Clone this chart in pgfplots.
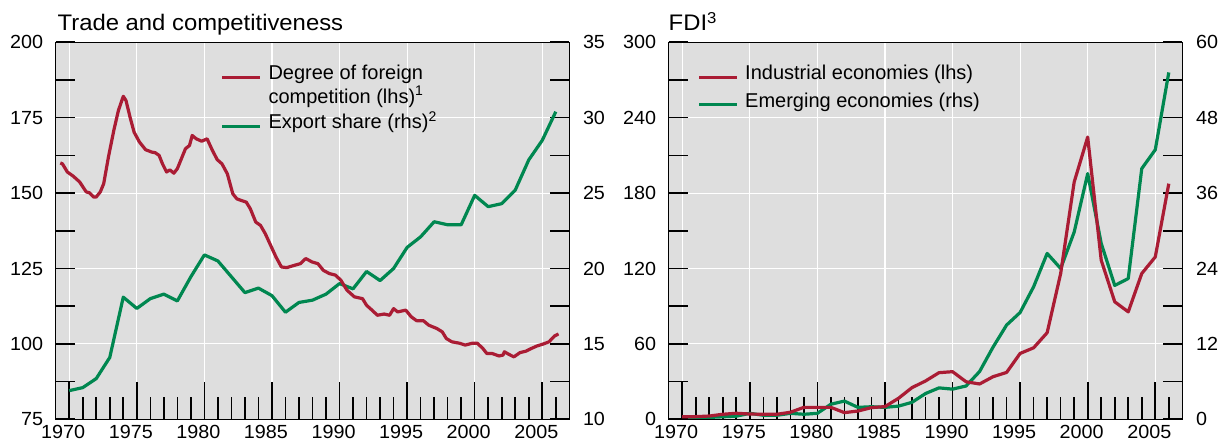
\documentclass[border=0pt]{standalone}
\usepackage{fontspec}
\setmainfont{Liberation Sans}
\newfontfamily\titlefont{Liberation Sans}[FakeStretch=1.06]
\newfontfamily\tickfont{Liberation Sans}[FakeStretch=1.04]
\usepackage{pgfplots}
\pgfplotsset{compat=1.18}
\definecolor{bisred}{RGB}{170,28,52}
\definecolor{bisgreen}{RGB}{0,135,80}
\definecolor{bggray}{RGB}{222,222,222}

\pgfplotstableread{
x y
1969.34 160.0
1969.5 159.7
1969.86 157.0
1970.3 155.6
1970.77 153.7
1971.26 150.4
1971.5 150.1
1971.8 148.7
1972.0 148.7
1972.3 150.4
1972.55 153.1
1972.9 161.9
1973.3 170.8
1973.64 177.4
1974.0 182.1
1974.2 180.7
1974.5 175.2
1974.8 170.2
1975.2 166.9
1975.65 164.4
1976.1 163.6
1976.36 163.4
1976.65 162.5
1976.9 159.7
1977.2 157.0
1977.45 157.7
1977.74 156.6
1978.0 158.1
1978.3 161.4
1978.6 164.7
1978.9 165.8
1979.1 169.1
1979.4 168.0
1979.8 167.2
1980.2 168.0
1980.6 164.1
1980.95 161.1
1981.3 159.7
1981.7 156.4
1982.1 149.8
1982.4 148.1
1982.7 147.6
1983.1 147.0
1983.4 144.8
1983.8 140.4
1984.15 139.3
1984.5 136.6
1984.9 132.7
1985.3 128.8
1985.7 125.5
1986.1 125.3
1986.7 126.1
1987.1 126.6
1987.5 128.3
1987.95 127.2
1988.4 126.6
1988.8 124.4
1989.25 123.3
1989.7 122.8
1990.1 121.1
1990.55 117.8
1991.1 115.6
1991.7 115.0
1992.0 112.8
1992.4 111.2
1992.8 109.5
1993.3 109.9
1993.7 109.5
1994.0 111.7
1994.3 110.6
1994.9 111.2
1995.3 109.0
1995.7 107.7
1996.2 107.7
1996.6 106.2
1997.2 105.1
1997.6 104.0
1997.9 101.8
1998.3 100.7
1998.9 100.2
1999.3 99.6
1999.8 100.2
2000.2 100.2
2000.6 98.5
2000.9 96.8
2001.3 96.8
2001.8 96.0
2002.1 96.3
2002.2 97.4
2002.5 96.6
2002.9 95.7
2003.35 97.1
2003.8 97.6
2004.2 98.5
2004.6 99.3
2005.1 100.0
2005.5 100.7
2005.9 102.6
2006.2 103.3
}\competition

\pgfplotstableread{
x y
1970 11.9
1971 12.1
1972 12.7
1973 14.1
1974 18.1
1975 17.35
1976 18.0
1977 18.3
1978 17.85
1979 19.45
1980 20.9
1981 20.5
1982 19.45
1983 18.4
1984 18.7
1985 18.2
1986 17.1
1987 17.75
1988 17.9
1989 18.3
1990 19.0
1991 18.65
1992 19.8
1993 19.2
1994 20.0
1995 21.4
1996 22.1
1997 23.1
1998 22.9
1999 22.9
2000 24.85
2001 24.1
2002 24.3
2003 25.2
2004 27.2
2005 28.5
2006 30.4
}\exportshare

\pgfplotstableread{
x y
1970 2.1
1971 2.1
1972 2.6
1973 4.0
1974 4.8
1975 4.2
1976 4.0
1977 4.0
1978 5.6
1979 9.5
1980 9.5
1981 9.5
1982 5.3
1983 6.6
1984 9.3
1985 10.1
1986 16.7
1987 25.2
1988 30.5
1989 37.1
1990 37.9
1991 29.9
1992 28.1
1993 33.9
1994 37.3
1995 52.4
1996 56.9
1997 68.9
1998 116.0
1999 188.8
2000 224.6
2001 126.6
2002 93.5
2003 85.5
2004 116.0
2005 129.2
2006 187.5
}\industrial

\pgfplotstableread{
x y
1970 0.3
1971 0.3
1972 0.3
1973 0.4
1974 0.5
1975 0.95
1976 0.64
1977 0.64
1978 0.95
1979 0.8
1980 0.95
1981 2.4
1982 2.9
1983 1.9
1984 2.0
1985 1.9
1986 2.1
1987 2.7
1988 4.1
1989 5.0
1990 4.8
1991 5.3
1992 7.6
1993 11.5
1994 15.0
1995 17.0
1996 21.1
1997 26.4
1998 24.0
1999 29.8
2000 39.1
2001 28.0
2002 21.3
2003 22.4
2004 39.9
2005 42.9
2006 55.2
}\emerging

\pgfplotsset{
  bisbase/.style={
    scale only axis, width=513.6pt, height=377pt, anchor=south west,
    xmin=1969, xmax=2007,
    axis line style={line width=1.4pt, black},
    tick style={line width=1.6pt, black},
    major tick length=19pt, minor tick length=19pt,
    tick align=inside,
    ticklabel style={font=\tickfont\fontsize{19}{21}\selectfont, inner sep=0pt},
    /pgf/number format/assume math mode=true,
  },
  bisfirst/.style={
    bisbase,
    axis background/.style={fill=bggray},
    xtick={1970,1975,...,2005},
    xticklabels={1970,1975,1980,1985,1990,1995,2000,2005},
    minor xtick={1970,1971,...,2006},
    xtick pos=bottom,
    xmajorgrids, ymajorgrids,
    major grid style={white, line width=1.1pt},
    xtick style={/pgfplots/major tick length=37pt, /pgfplots/minor tick length=22pt},
    xticklabel style={anchor=north, xshift=-6pt, yshift=-5.7pt},
    ytick pos=right, yticklabel pos=right,
    yticklabel style={anchor=west, xshift=13.5pt},
  },
  bissecond/.style={
    bisbase,
    xtick=\empty,
    ytick pos=left, yticklabel pos=left,
    yticklabel style={anchor=east, xshift=-12.5pt},
  },
  dl/.style={line width=3.2pt, line join=round, no markers},
}

\begin{document}
\begin{tikzpicture}[x=1pt,y=1pt]
\useasboundingbox (0,0) rectangle (1220,441);

% ---------- Left panel ----------
\begin{axis}[bisfirst, at={(55.7pt,21.7pt)},
  ymin=10, ymax=35, ytick={10,15,...,35}, minor ytick={12.5,17.5,...,32.5}]
  \addplot[dl, bisgreen] table[x=x,y=y] {\exportshare};
\end{axis}
\begin{axis}[bissecond, at={(55.7pt,21.7pt)},
  ymin=75, ymax=200, ytick={75,100,...,200}, minor ytick={87.5,112.5,...,187.5}]
  \addplot[dl, bisred] table[x=x,y=y] {\competition};
\end{axis}

% ---------- Right panel ----------
\begin{axis}[bisfirst, at={(668.7pt,21.7pt)},
  ymin=0, ymax=60, ytick={0,12,...,60}, minor ytick={6,18,...,54}]
  \addplot[dl, bisgreen] table[x=x,y=y] {\emerging};
\end{axis}
\begin{axis}[bissecond, at={(668.7pt,21.7pt)},
  ymin=0, ymax=300, ytick={0,60,...,300}, minor ytick={30,90,...,270}]
  \addplot[dl, bisred] table[x=x,y=y] {\industrial};
\end{axis}

% ---------- Titles ----------
\node[anchor=base west, inner sep=0pt, font=\titlefont\fontsize{22.5}{25}\selectfont] at (57.5,410) {Trade and competitiveness};
\node[anchor=base west, inner sep=0pt, font=\titlefont\fontsize{22.5}{25}\selectfont] at (668.5,410) {FDI\textsuperscript{3}};

% ---------- Legends ----------
\begin{scope}[every node/.style={anchor=base west, inner sep=0pt, font=\fontsize{20}{22}\selectfont}]
\draw[bisred, line width=3.3pt] (222.3,363.3) -- (260,363.3);
\node at (268.3,361) {Degree of foreign};
\node at (268.3,337.7) {competition (lhs)\textsuperscript{1}};
\draw[bisgreen, line width=3.3pt] (222.3,314.3) -- (260,314.3);
\node at (268.3,312) {Export share (rhs)\textsuperscript{2}};

\draw[bisred, line width=3.3pt] (699,363.3) -- (737,363.3);
\node at (745,361) {Industrial economies (lhs)};
\draw[bisgreen, line width=3.3pt] (699,336.7) -- (737,336.7);
\node at (745,333.7) {Emerging economies (rhs)};
\end{scope}
\end{tikzpicture}
\end{document}
